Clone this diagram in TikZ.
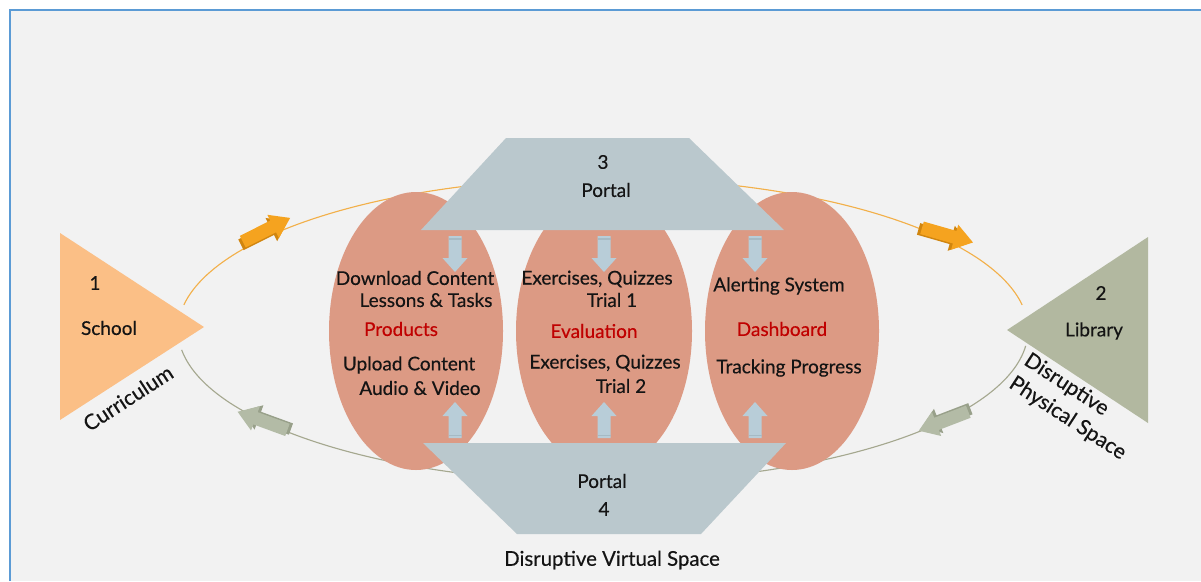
\documentclass[tikz,border=0pt]{standalone}
\usepackage{fontspec}
\setmainfont{Lato}
\newfontfamily\labelfont{Lato}[FakeBold=0.35]
\usetikzlibrary{positioning}

\definecolor{canvas}{HTML}{F2F2F2}
\definecolor{frameblue}{HTML}{5B9BD5}
\definecolor{schoolfill}{HTML}{FBBF86}
\definecolor{libraryfill}{HTML}{B2B8A0}
\definecolor{petal}{HTML}{DC9A84}
\definecolor{portalfill}{HTML}{BAC8CD}
\definecolor{pushfill}{HTML}{B8CDD8}
\definecolor{pushdark}{HTML}{A6BAC4}
\definecolor{orangearc}{HTML}{F2B04A}
\definecolor{orangehead}{HTML}{F5A31F}
\definecolor{orangedark}{HTML}{D0850F}
\definecolor{grayarc}{HTML}{A5A88F}
\definecolor{grayhead}{HTML}{B3BBA6}
\definecolor{graydark}{HTML}{98A08A}
\definecolor{txt}{HTML}{141414}
\definecolor{hotred}{HTML}{C00000}

\tikzset{
  lbl/.style={text=txt, inner sep=0pt, font=\labelfont\fontsize{13.5}{16}\selectfont},
  hot/.style={lbl, text=hotred},
  slant/.style={lbl, font=\labelfont\fontsize{15}{19.5}\selectfont},
  % block arrow riding on the loop
  pics/flowarrow/.style 2 args={code={
    \fill[#2] (-29,-4) -- (5,-4) -- (5,-11) -- (23,2) -- (5,15) -- (5,8) -- (-29,8) -- cycle;
    \fill[#1] (-26,-6.5) -- (8,-6.5) -- (8,-13) -- (27,0) -- (8,13) -- (8,6.5) -- (-26,6.5) -- cycle;
  }},
  % small arrow out of a portal
  pics/pusharrow/.style={code={
    \fill[pushfill] (-6.5,0) -- (6.5,0) -- (6.5,22) -- (12.5,22) -- (0,36) -- (-12.5,22) -- (-6.5,22) -- cycle;
    \fill[pushdark] (-6.5,2) rectangle (6.5,3.5);
  }}
}

\begin{document}
\begin{tikzpicture}[x=0.025cm,y=-0.025cm]
  \useasboundingbox (0,0) rectangle (1201,581);
  \fill[white] (0,0) rectangle (1201,581);
  \fill[canvas] (10,10) rectangle (1201,581);
  \draw[frameblue,line width=1.4pt] (10,581) -- (10,10) -- (1201,10);

  % the loop between school and library
  \draw[orangearc,line width=0.8pt] (603,330) ++(-170.5:425 and 152)
    arc[start angle=-170.5, end angle=-9.5, x radius=425, y radius=152];
  \draw[grayarc,line width=0.8pt] (603,330) ++(172.5:425 and 152)
    arc[start angle=172.5, end angle=6, x radius=425, y radius=152];

  \pic[rotate=26.6] at (266,230) {flowarrow={orangehead}{orangedark}};
  \pic[rotate=-16] at (947,235) {flowarrow={orangehead}{orangedark}};
  \pic[rotate=160] at (263,421) {flowarrow={grayhead}{graydark}};
  \pic[rotate=-159] at (944,421) {flowarrow={grayhead}{graydark}};

  % ends of the loop
  \fill[schoolfill] (60,233) -- (204,327) -- (60,420) -- cycle;
  \fill[libraryfill] (1148,237) -- (1007,330) -- (1148,423) -- cycle;

  % three petals
  \fill[petal] (416,331) ellipse [x radius=87, y radius=139];
  \fill[petal] (604,331) ellipse [x radius=88, y radius=139];
  \fill[petal] (792,331) ellipse [x radius=87, y radius=139];

  % portals
  \fill[portalfill] (506,138) -- (689,138) -- (784,230) -- (421,230) -- cycle;
  \fill[portalfill] (423,443) -- (786,443) -- (701,534) -- (517,534) -- cycle;

  \foreach \px in {455,604,755} {
    \pic at (\px,236) {pusharrow};
    \pic[rotate=180] at (\px,438) {pusharrow};
  }

  % labels
  \node[lbl] (one) at (95,283) {1};
  \node[lbl] (school) at (109,328) {School};
  \node[slant,rotate=33] (curr) at (128,398) {Curriculum};
  \node[lbl] (two) at (1101,293) {2};
  \node[lbl] (library) at (1094,331) {Library};
  \node[slant,rotate=-33,align=left] (physical) at (1075,407) {Disruptive\\Physical Space};

  \node[lbl] (three) at (603,162) {3};
  \node[lbl] (portaltop) at (606,190) {Portal};
  \node[lbl] (portalbot) at (602,481) {Portal};
  \node[lbl] (four) at (604,509) {4};
  \node[lbl,font=\labelfont\fontsize{14.5}{16}\selectfont] (virtual) at (612,560) {Disruptive Virtual Space};

  \node[lbl] (download) at (415,278) {Download Content};
  \node[lbl] (lessons) at (426,300) {Lessons \& Tasks};
  \node[hot] (products) at (401,329) {Products};
  \node[lbl] (upload) at (409,365) {Upload Content};
  \node[lbl] (audio) at (420,388) {Audio \& Video};

  \node[lbl] (quizone) at (597,279) {Exercises, Quizzes};
  \node[lbl] (trialone) at (612,300) {Trial 1};
  \node[hot] (evaluation) at (594,331) {Evaluation};
  \node[lbl] (quiztwo) at (605,363) {Exercises, Quizzes};
  \node[lbl] (trialtwo) at (621,386) {Trial 2};

  \node[lbl] (alerting) at (779,286) {Alerting System};
  \node[hot] (dashboard) at (782,329) {Dashboard};
  \node[lbl] (tracking) at (789,368) {Tracking Progress};
\end{tikzpicture}
\end{document}
